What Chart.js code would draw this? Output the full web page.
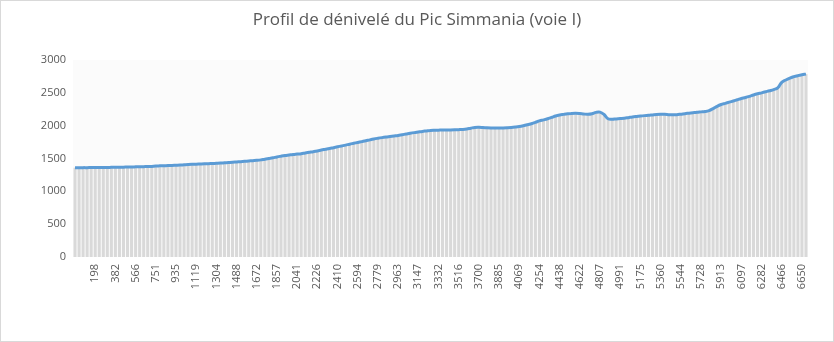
<!DOCTYPE html>
<html lang="fr">
<head>
<meta charset="utf-8">
<title>Profil de dénivelé du Pic Simmania</title>
<script src="https://cdn.jsdelivr.net/npm/chart.js@4.4.1/dist/chart.umd.min.js"></script>
<style>
  html, body { margin: 0; padding: 0; background: #fff; }
  #wrap {
    position: relative;
    width: 834px;
    height: 342px;
    box-sizing: border-box;
    border: 1px solid #d9d9d9;
  }
</style>
</head>
<body>
<div id="wrap"><canvas id="profil"></canvas></div>
<script>
// distance labels shown under the axis (one every 5 points)
const distances = [198, 382, 566, 751, 935, 1119, 1304, 1488, 1672, 1857, 2041, 2226,
  2410, 2594, 2779, 2963, 3147, 3332, 3516, 3700, 3885, 4069, 4254, 4438, 4622, 4807,
  4991, 5175, 5360, 5544, 5728, 5913, 6097, 6282, 6466, 6650];
const labelEvery = 5;

// altitude (m) for each point of the route
const altitudes = [
  1360, 1360, 1361, 1361, 1362, 1362, 1363, 1363, 1364, 1365,
  1366, 1367, 1368, 1370, 1371, 1373, 1375, 1376, 1377, 1380,
  1386, 1388, 1390, 1392, 1394, 1397, 1400, 1404, 1408, 1411,
  1413, 1416, 1419, 1421, 1424, 1427, 1430, 1434, 1438, 1442,
  1447, 1452, 1457, 1462, 1467, 1472, 1479, 1490, 1500, 1510,
  1524, 1535, 1545, 1553, 1561, 1567, 1573, 1584, 1594, 1604,
  1615, 1628, 1640, 1652, 1665, 1678, 1691, 1704, 1718, 1731,
  1744, 1757, 1770, 1784, 1797, 1808, 1818, 1827, 1835, 1843,
  1851, 1862, 1873, 1884, 1894, 1903, 1912, 1920, 1928, 1931,
  1932, 1933, 1933, 1934, 1936, 1939, 1943, 1950, 1962, 1973,
  1975, 1972, 1968, 1965, 1963, 1963, 1965, 1968, 1972, 1978,
  1986, 1998, 2013, 2030, 2050, 2072, 2088, 2105, 2125, 2148,
  2163, 2172, 2180, 2186, 2188, 2184, 2177, 2174, 2182, 2202,
  2206, 2170, 2105, 2098, 2103, 2108, 2113, 2122, 2132, 2140,
  2147, 2153, 2158, 2164, 2170, 2173, 2172, 2168, 2165, 2168,
  2175, 2183, 2190, 2197, 2204, 2210, 2216, 2230, 2260, 2295,
  2322, 2340, 2358, 2376, 2395, 2413, 2428, 2446, 2467, 2485,
  2500, 2516, 2532, 2550, 2575, 2660, 2695, 2725, 2746, 2762,
  2775, 2785
];

const yTicks = [0, 500, 1000, 1500, 2000, 2500, 3000];

const chartTitle = 'Profil de dénivelé du Pic Simmania (voie I)';
const textColor = '#595959';

// only every 5th point carries a distance label
const labels = altitudes.map((_, i) =>
  (i % labelEvery === 0 && i > 0) ? String(distances[i / labelEvery - 1] ?? '') : '');

const plotBackground = {
  id: 'plotBackground',
  beforeDatasetsDraw(chart) {
    const { ctx, chartArea: a } = chart;
    ctx.save();
    ctx.fillStyle = '#fbfbfb';
    ctx.fillRect(a.left, a.top, a.right - a.left, a.bottom - a.top);
    ctx.restore();
  }
};

const centeredTitle = {
  id: 'centeredTitle',
  afterDraw(chart) {
    const ctx = chart.ctx;
    ctx.save();
    ctx.font = '17px "Open Sans"';
    ctx.fillStyle = textColor;
    ctx.textAlign = 'center';
    ctx.textBaseline = 'middle';
    ctx.fillText(chartTitle, chart.width / 2, 19);
    ctx.restore();
  }
};

new Chart(document.getElementById('profil'), {
  data: {
    labels: labels,
    datasets: [
      {
        type: 'line',
        data: altitudes,
        borderColor: '#5b9bd5',
        borderWidth: 3,
        pointRadius: 0,
        tension: 0.4,
        fill: false,
        order: 0
      },
      {
        type: 'bar',
        data: altitudes,
        backgroundColor: '#d9d9d9',
        barPercentage: 0.75,
        categoryPercentage: 1.0,
        order: 1
      }
    ]
  },
  options: {
    responsive: true,
    maintainAspectRatio: false,
    animation: false,
    layout: { padding: { top: 59, right: 25, left: 0, bottom: 0 } },
    plugins: {
      legend: { display: false },
      title: { display: false },
      tooltip: { enabled: false }
    },
    scales: {
      x: {
        grid: { display: false, drawTicks: false },
        border: { display: false },
        ticks: {
          autoSkip: false,
          minRotation: 90,
          maxRotation: 90,
          padding: 7,
          color: textColor,
          font: { family: 'Open Sans', size: 11 }
        },
        afterFit(scale) { scale.height = 84; }
      },
      y: {
        min: 0,
        max: 3000,
        grid: { display: false, drawTicks: false },
        border: { display: false },
        afterBuildTicks(scale) { scale.ticks = yTicks.map(v => ({ value: v })); },
        ticks: {
          padding: 7,
          color: textColor,
          font: { family: 'Open Sans', size: 11 },
          callback: v => String(v)
        },
        afterFit(scale) { scale.width = 72; }
      }
    }
  },
  plugins: [plotBackground, centeredTitle]
});
</script>
</body>
</html>
